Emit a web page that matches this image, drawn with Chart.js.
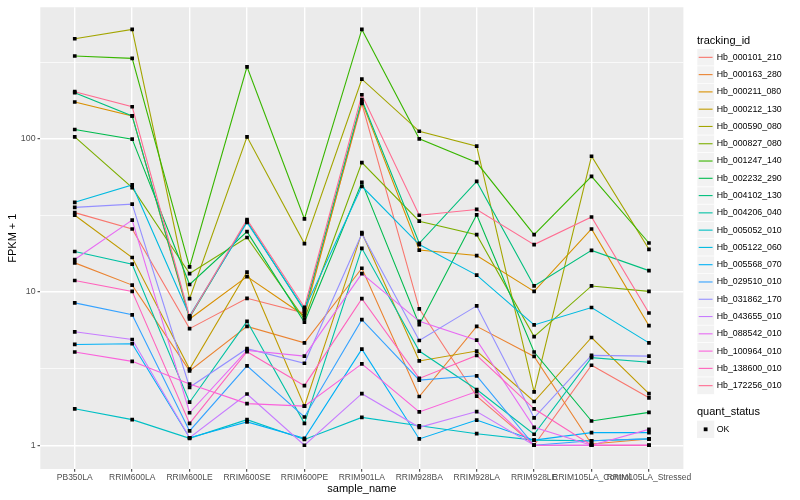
<!DOCTYPE html>
<html><head><meta charset="utf-8">
<script src="https://cdn.jsdelivr.net/npm/chart.js@4.4.1/dist/chart.umd.min.js"></script>
<style>html,body{margin:0;padding:0;background:#fff;}#wrap{width:800px;height:500px;position:relative;}canvas{display:block;}</style>
</head><body><div id="wrap"><canvas id="c" width="800" height="500" style="width:800px;height:500px"></canvas></div>
<script>
const categories = ['PB350LA','RRIM600LA','RRIM600LE','RRIM600SE','RRIM600PE','RRIM901LA','RRIM928BA','RRIM928LA','RRIM928LE','RRIM105LA_Control','RRIM105LA_Stressed'];
const trackingIds = ['Hb_000101_210','Hb_000163_280','Hb_000211_080','Hb_000212_130','Hb_000590_080','Hb_000827_080','Hb_001247_140','Hb_002232_290','Hb_004102_130','Hb_004206_040','Hb_005052_010','Hb_005122_060','Hb_005568_070','Hb_029510_010','Hb_031862_170','Hb_043655_010','Hb_088542_010','Hb_100964_010','Hb_138600_010','Hb_172256_010'];
const hb000101 = [33, 25.8, 5.77, 9.1, 7.3, 170, 7.77, 2.09, 1.0, 3.33, 2.04];
const hb000163 = [15.5, 11.1, 3.06, 5.97, 4.66, 14.3, 2.08, 5.97, 3.8, 1.02, 1.1];
const hb000211 = [174, 141, 6.67, 12.6, 7.0, 175, 18.8, 17.3, 10.1, 25.8, 6.03];
const hb000212 = [31.7, 16.8, 3.14, 13.5, 1.8, 24.4, 3.55, 4.12, 1.93, 5.05, 2.17];
const hb000590 = [450, 518, 9.05, 103, 20.7, 245, 112, 89.6, 2.23, 77, 19];
const hb000827 = [103, 48, 13.2, 22.7, 6.67, 70, 29, 23.7, 5.12, 10.96, 10.1];
const hb001247 = [347, 335, 14.6, 295, 30, 518, 100, 70, 23.7, 56.9, 20.9];
const hb002232 = [115, 99.5, 11.2, 24.8, 6.35, 52, 6.12, 31.9, 4.06, 1.44, 1.64];
const hb004102 = [200, 141, 6.8, 29, 7.57, 180, 20.8, 52.7, 10.96, 18.7, 13.8];
const hb004206 = [18.4, 15.2, 1.91, 6.44, 1.39, 19.3, 4.12, 2.31, 1.18, 3.73, 3.48];
const hb005052 = [1.73, 1.47, 1.11, 1.47, 1.09, 1.52, 1.34, 1.19, 1.08, 1.07, 1.1];
const hb005122 = [38.5, 50, 7.0, 28.5, 7.7, 49, 20.4, 12.9, 6.1, 7.93, 4.66];
const hb005568 = [4.55, 4.6, 1.12, 1.42, 1.11, 4.24, 1.1, 1.46, 1.08, 1.21, 1.21];
const hb029510 = [8.5, 7.1, 1.24, 3.3, 1.53, 6.6, 2.66, 2.84, 1.0, 1.07, 1.1];
const hb031862 = [35.7, 37.5, 2.39, 4.27, 3.43, 24, 4.83, 8.12, 1.51, 3.86, 3.82];
const hb043655 = [5.5, 4.9, 1.12, 2.16, 1.0, 2.17, 1.31, 1.66, 1.0, 1.0, 1.0];
const hb088542 = [16.3, 29.5, 1.63, 4.16, 3.82, 13.2, 6.44, 4.85, 1.31, 1.0, 1.27];
const hb100964 = [4.06, 3.53, 2.51, 1.87, 1.8, 3.4, 1.65, 2.24, 1.0, 1.0, 1.0];
const hb138600 = [11.9, 10.1, 1.39, 4.08, 2.45, 9.06, 2.73, 3.86, 1.73, 1.0, 1.0];
const hb172256 = [203, 162, 6.9, 29.7, 7.96, 194, 31.7, 34.6, 20.4, 30.9, 7.3];
const yTickValues = [1, 10, 100];
const yTickLabels = ['1', '10', '100'];
const yMinorValues = [3.1623, 31.623, 316.23];
const qualityLevels = ['OK'];

const seriesValues = [hb000101,hb000163,hb000211,hb000212,hb000590,hb000827,hb001247,hb002232,hb004102,hb004206,hb005052,hb005122,hb005568,hb029510,hb031862,hb043655,hb088542,hb100964,hb138600,hb172256];
const seriesColors = ['#F8766D','#EA8331','#D89000','#C09B00','#A3A500','#7CAE00','#39B600','#00BB4E','#00BF7D','#00C1A3','#00BFC4','#00BAE0','#00B0F6','#35A2FF','#9590FF','#C77CFF','#E76BF3','#FA62DB','#FF62BC','#FF6C91'];

const FONT = '"Liberation Sans", Arial, Helvetica, sans-serif';
Chart.defaults.font.family = FONT;

const datasets = [];
seriesValues.forEach((vals, i) => {
  datasets.push({
    label: trackingIds[i],
    data: vals.map((v, j) => ({x: j, y: v})),
    borderColor: seriesColors[i],
    backgroundColor: seriesColors[i],
    borderWidth: 1.1,
    pointRadius: 0,
    fill: false,
    tension: 0,
    order: 100 - i
  });
});
seriesValues.forEach((vals, i) => {
  datasets.push({
    label: trackingIds[i] + ' ' + qualityLevels[0],
    data: vals.map((v, j) => ({x: j, y: v})),
    showLine: false,
    pointStyle: 'rect',
    pointRadius: 2.6,
    pointBorderWidth: 0,
    pointBackgroundColor: '#000000',
    pointBorderColor: '#000000',
    order: 0
  });
});

const allY = yTickValues.concat(yMinorValues).sort((a,b)=>a-b);
const isMajor = v => yTickValues.indexOf(v) >= 0;

const panelBg = {
  id: 'panelBg',
  beforeDraw(chart) {
    const {ctx, chartArea: a} = chart;
    ctx.save();
    ctx.fillStyle = '#FFFFFF';
    ctx.fillRect(0, 0, chart.width, chart.height);
    ctx.fillStyle = '#EBEBEB';
    ctx.fillRect(a.left, a.top, a.right - a.left, a.bottom - a.top);
    ctx.restore();
  }
};

const ggLegend = {
  id: 'ggLegend',
  afterDraw(chart) {
    const ctx = chart.ctx;
    ctx.save();
    ctx.textAlign = 'left';
    ctx.textBaseline = 'middle';
    ctx.fillStyle = '#000';
    ctx.font = '11px ' + FONT;
    ctx.fillText('tracking_id', 697, 40.7);
    const k = 17.28, kx = 697, ky0 = 48.7;
    trackingIds.forEach((id, i) => {
      const y = ky0 + i * k;
      ctx.fillStyle = '#F2F2F2';
      ctx.fillRect(kx, y, k, k);
      ctx.strokeStyle = '#FFFFFF';
      ctx.lineWidth = 0.6;
      ctx.strokeRect(kx, y, k, k);
      ctx.strokeStyle = seriesColors[i];
      ctx.lineWidth = 1.1;
      ctx.beginPath();
      ctx.moveTo(kx + 1.7, y + k / 2);
      ctx.lineTo(kx + k - 1.7, y + k / 2);
      ctx.stroke();
      ctx.fillStyle = '#000';
      ctx.font = '8.8px ' + FONT;
      ctx.fillText(id, 716.7, y + k / 2);
    });
    ctx.font = '11px ' + FONT;
    ctx.fillStyle = '#000';
    ctx.fillText('quant_status', 697, 412.3);
    const qy = 429.3 - k / 2;
    ctx.fillStyle = '#F2F2F2';
    ctx.fillRect(kx, qy, k, k);
    ctx.fillStyle = '#000';
    ctx.fillRect(kx + k / 2 - 1.9, qy + k / 2 - 1.9, 3.8, 3.8);
    ctx.font = '8.8px ' + FONT;
    ctx.fillText(qualityLevels[0], 716.7, 429.3);
    ctx.restore();
  }
};

new Chart(document.getElementById('c'), {
  type: 'line',
  data: {datasets},
  plugins: [panelBg, ggLegend],
  options: {
    responsive: false,
    animation: false,
    events: [],
    layout: {padding: {left: 0, right: 116.6, top: 4, bottom: 0}},
    plugins: {legend: {display: false}, tooltip: {enabled: false}},
    scales: {
      x: {
        type: 'linear',
        min: -0.6, max: 10.6,
        afterBuildTicks: s => { s.ticks = categories.map((c, i) => ({value: i})); },
        afterFit: s => { s.height = 31; },
        ticks: {autoSkip: false, maxRotation: 0, minRotation: 0, color: '#4D4D4D', font: {size: 8.5}, padding: 1,
          callback: v => categories[v] !== undefined ? categories[v] : ''},
        grid: {color: '#FFFFFF', lineWidth: 1.4, tickLength: 2.75, tickColor: '#333333', tickWidth: 1},
        border: {display: false},
        title: {display: true, text: 'sample_name', color: '#000', font: {size: 11}, padding: {top: 0, bottom: 4.4}}
      },
      y: {
        type: 'logarithmic',
        min: 0.72, max: 722,
        afterBuildTicks: s => { s.ticks = allY.map(v => ({value: v, major: false})); },
        afterFit: s => { s.width = 40.3; },
        ticks: {autoSkip: false, color: '#4D4D4D', font: {size: 8.8}, padding: 2,
          callback: v => { const i = yTickValues.indexOf(v); return i >= 0 ? yTickLabels[i] : ''; }},
        grid: {color: '#FFFFFF',
          lineWidth: c => (c.tick && isMajor(c.tick.value)) ? 1.4 : 0.7,
          tickColor: c => (c.tick && isMajor(c.tick.value)) ? '#333333' : 'rgba(0,0,0,0)',
          tickLength: 2.75, tickWidth: 1},
        border: {display: false},
        title: {display: true, text: 'FPKM + 1', color: '#000', font: {size: 11}, padding: {top: 6.5, bottom: 0}}
      }
    }
  }
});
</script></body></html>
